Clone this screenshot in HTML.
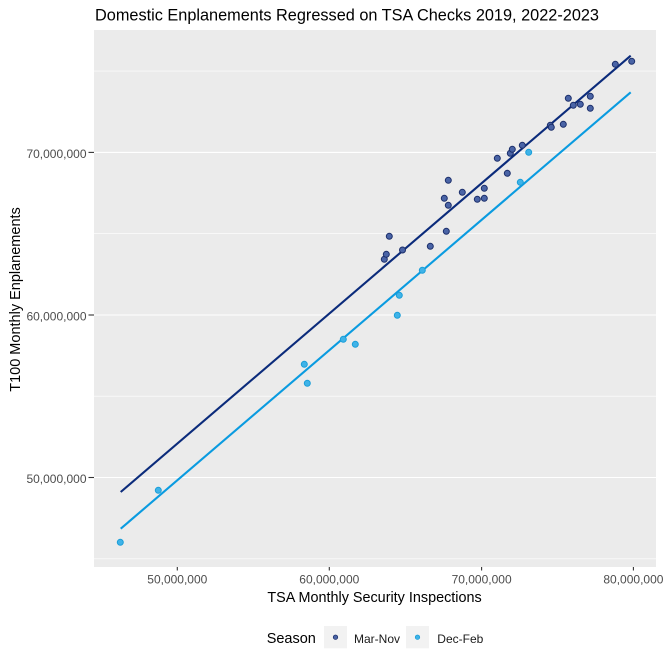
<!DOCTYPE html>
<html>
<head>
<meta charset="utf-8">
<style>
  html,body{margin:0;padding:0;background:#fff;}
  svg{display:block;}
  text{font-family:"Liberation Sans",Arial,sans-serif;}
</style>
</head>
<body>
<svg width="664" height="664" viewBox="0 0 664 664" xmlns="http://www.w3.org/2000/svg">
  <rect x="0" y="0" width="664" height="664" fill="#ffffff"/>
  <!-- title -->
  <text x="95" y="20.5" font-size="16.2" fill="#000" textLength="504" lengthAdjust="spacingAndGlyphs">Domestic Enplanements Regressed on TSA Checks 2019, 2022-2023</text>

  <!-- panel -->
  <rect x="94" y="30" width="562" height="537" fill="#ebebeb"/>
  <!-- minor grid -->
  <g stroke="#ffffff" stroke-width="0.6">
    <line x1="94" x2="656" y1="71.1" y2="71.1"/>
    <line x1="94" x2="656" y1="233.7" y2="233.7"/>
    <line x1="94" x2="656" y1="396.2" y2="396.2"/>
    <line x1="94" x2="656" y1="558.8" y2="558.8"/>
  </g>
  <!-- major grid -->
  <g stroke="#ffffff" stroke-width="1.1">
    <line x1="94" x2="656" y1="152.4" y2="152.4"/>
    <line x1="94" x2="656" y1="315" y2="315"/>
    <line x1="94" x2="656" y1="477.5" y2="477.5"/>
  </g>

  <!-- fitted lines -->
  <line x1="120.7" y1="492" x2="630.7" y2="55.7" stroke="#0b2b7b" stroke-width="2.1"/>
  <line x1="120.7" y1="528.7" x2="630.7" y2="92.3" stroke="#0a9be0" stroke-width="2.1"/>

  <!-- Mar-Nov points -->
  <g fill="#4a64a6" stroke="#1c2f6b" stroke-width="1">
    <circle cx="384.3" cy="259.3" r="3"/>
    <circle cx="386.3" cy="254.3" r="3"/>
    <circle cx="389.3" cy="236.3" r="3"/>
    <circle cx="402.5" cy="250" r="3"/>
    <circle cx="430.3" cy="246.3" r="3"/>
    <circle cx="444.3" cy="198.3" r="3"/>
    <circle cx="446.3" cy="231.3" r="3"/>
    <circle cx="448.3" cy="180.3" r="3"/>
    <circle cx="448.3" cy="205.3" r="3"/>
    <circle cx="462.3" cy="192.3" r="3"/>
    <circle cx="477.3" cy="199.3" r="3"/>
    <circle cx="484.3" cy="198.3" r="3"/>
    <circle cx="484.3" cy="188.3" r="3"/>
    <circle cx="497.3" cy="158.3" r="3"/>
    <circle cx="507.3" cy="173.3" r="3"/>
    <circle cx="510.3" cy="153.3" r="3"/>
    <circle cx="512.3" cy="149.3" r="3"/>
    <circle cx="522.3" cy="145.3" r="3"/>
    <circle cx="550.3" cy="125.3" r="3"/>
    <circle cx="551.3" cy="127.3" r="3"/>
    <circle cx="563.3" cy="124.3" r="3"/>
    <circle cx="568.3" cy="98.3" r="3"/>
    <circle cx="573.3" cy="105.3" r="3"/>
    <circle cx="580.3" cy="104.3" r="3"/>
    <circle cx="590.3" cy="96.3" r="3"/>
    <circle cx="590.3" cy="108.3" r="3"/>
    <circle cx="615.3" cy="64.3" r="3"/>
    <circle cx="631.7" cy="61.3" r="3"/>
  </g>
  <!-- Dec-Feb points -->
  <g fill="#3fb3e8" stroke="#1a9ed8" stroke-width="1">
    <circle cx="120.3" cy="542.3" r="3"/>
    <circle cx="158.3" cy="490.3" r="3"/>
    <circle cx="304.3" cy="364.3" r="3"/>
    <circle cx="307.3" cy="383.3" r="3"/>
    <circle cx="343.3" cy="339.3" r="3"/>
    <circle cx="355.3" cy="344.3" r="3"/>
    <circle cx="397.3" cy="315.3" r="3"/>
    <circle cx="399.3" cy="295.3" r="3"/>
    <circle cx="422.3" cy="270.3" r="3"/>
    <circle cx="520.3" cy="182.3" r="3"/>
    <circle cx="528.7" cy="152.3" r="3"/>
  </g>

  <!-- y axis ticks -->
  <g stroke="#333333" stroke-width="1.1">
    <line x1="88.5" x2="94" y1="152.4" y2="152.4"/>
    <line x1="88.5" x2="94" y1="315" y2="315"/>
    <line x1="88.5" x2="94" y1="477.5" y2="477.5"/>
  </g>
  <g font-size="12" fill="#4d4d4d" text-anchor="end">
    <text x="86.5" y="158">70,000,000</text>
    <text x="86.5" y="320.6">60,000,000</text>
    <text x="86.5" y="483.2">50,000,000</text>
  </g>

  <!-- x axis ticks -->
  <g stroke="#333333" stroke-width="1.1">
    <line x1="177.3" x2="177.3" y1="567" y2="570.5"/>
    <line x1="329.3" x2="329.3" y1="567" y2="570.5"/>
    <line x1="481.6" x2="481.6" y1="567" y2="570.5"/>
    <line x1="633.4" x2="633.4" y1="567" y2="570.5"/>
  </g>
  <g font-size="12" fill="#4d4d4d" text-anchor="middle">
    <text x="177.3" y="583.3">50,000,000</text>
    <text x="329.3" y="583.3">60,000,000</text>
    <text x="481.6" y="583.3">70,000,000</text>
    <text x="633.4" y="583.3">80,000,000</text>
  </g>

  <!-- axis titles -->
  <text x="374.5" y="602" font-size="14.4" fill="#000" text-anchor="middle">TSA Monthly Security Inspections</text>
  <text transform="translate(20,299.5) rotate(-90)" font-size="14.5" fill="#000" text-anchor="middle">T100 Monthly Enplanements</text>

  <!-- legend -->
  <text x="266.7" y="643.2" font-size="14.5" fill="#000">Season</text>
  <rect x="324" y="626" width="23" height="22.3" fill="#f2f2f2"/>
  <circle cx="335.5" cy="637.2" r="2.2" fill="#4a64a6" stroke="#1c2f6b" stroke-width="0.8"/>
  <text x="354" y="643" font-size="12" fill="#1a1a1a">Mar-Nov</text>
  <rect x="406" y="626" width="23" height="22.3" fill="#f2f2f2"/>
  <circle cx="417.5" cy="637.2" r="2.2" fill="#3fb3e8" stroke="#1a9ed8" stroke-width="0.8"/>
  <text x="437.3" y="643" font-size="12" fill="#1a1a1a">Dec-Feb</text>
</svg>
</body>
</html>
